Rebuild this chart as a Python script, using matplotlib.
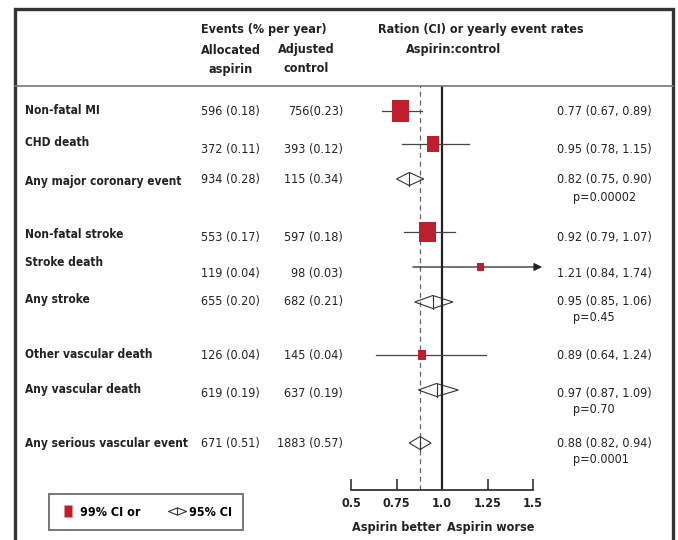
import numpy as np
import matplotlib
matplotlib.use("Agg")
import matplotlib.pyplot as plt
import matplotlib.transforms as mtransforms
from matplotlib.patches import Rectangle, Polygon
from matplotlib.lines import Line2D
from matplotlib.path import Path

plt.rcParams['font.family'] = ['DejaVu Sans']
plt.rcParams['font.stretch'] = 'condensed'
plt.rcParams['font.size'] = 9

# data
outcomes = ["Non-fatal MI", "CHD death", "Any major coronary event",
            "Non-fatal stroke", "Stroke death", "Any stroke",
            "Other vascular death", "Any vascular death", "Any serious vascular event"]
aspirin_events = ["596 (0.18)", "372 (0.11)", "934 (0.28)", "553 (0.17)", "119 (0.04)",
                  "655 (0.20)", "126 (0.04)", "619 (0.19)", "671 (0.51)"]
control_events = ["756(0.23)", "393 (0.12)", "115 (0.34)", "597 (0.18)", "98 (0.03)",
                  "682 (0.21)", "145 (0.04)", "637 (0.19)", "1883 (0.57)"]
ratio = [0.77, 0.95, 0.82, 0.92, 1.21, 0.95, 0.89, 0.97, 0.88]
ci_lo = [0.67, 0.78, 0.75, 0.79, 0.84, 0.85, 0.64, 0.87, 0.82]
ci_hi = [0.89, 1.15, 0.90, 1.07, 1.74, 1.06, 1.24, 1.09, 0.94]
is_total = [False, False, True, False, False, True, False, True, True]
p_values = [None, None, "p=0.00002", None, None, "p=0.45", None, "p=0.70", "p=0.0001"]
ticks = [0.5, 0.75, 1.0, 1.25, 1.5]
tick_labels = ["0.5", "0.75", "1.0", "1.25", "1.5"]

# layout (pixels from top of a 678x540 image)
W, H = 678, 540
label_y = [110, 142, 181, 234, 263, 299, 355, 390, 443]
value_y = [111, 149, 180, 237, 273, 301, 356, 393, 443]
mark_y = [111, 144, 179, 232, 267, 302, 355, 390, 443]
red = '#be1e2d'
ink = '#222222'

def fx(px):
    return px / W

def fy(py):
    return 1 - py / H

fig = plt.figure(figsize=(6.78, 5.4), dpi=100)

# frame and separator
fig.add_artist(Rectangle((fx(15), -0.1), fx(673) - fx(15), fy(9) + 0.1, fill=False,
                         lw=2.4, ec='#333333', transform=fig.transFigure, clip_on=False))
fig.add_artist(Line2D([fx(15), fx(673)], [fy(86), fy(86)], color='#777777', lw=1.2,
                      transform=fig.transFigure))

# header
hdr = dict(ha='center', va='center', fontweight='bold', color=ink)
fig.text(fx(264), fy(30), "Events (% per year)", **hdr)
fig.text(fx(231), fy(50), "Allocated", **hdr)
fig.text(fx(231), fy(69), "aspirin", **hdr)
fig.text(fx(306), fy(50), "Adjusted", **hdr)
fig.text(fx(306), fy(69), "control", **hdr)
fig.text(fx(481), fy(30), "Ration (CI) or yearly event rates", **hdr)
fig.text(fx(454), fy(50), "Aspirin:control", **hdr)

# forest axes
ax = fig.add_axes([fx(351), fy(490), fx(533) - fx(351), fy(86) - fy(490)])
ax.set_xlim(0.5, 1.5)
ax.set_ylim(490, 86)
ax.patch.set_alpha(0)
for s in ['left', 'right', 'top']:
    ax.spines[s].set_visible(False)
ax.spines['bottom'].set_color('#333333')
ax.spines['bottom'].set_linewidth(1.3)
ax.set_yticks([])
ax.set_xticks(ticks)
ax.set_xticklabels(tick_labels, fontweight='bold', color=ink)
ax.tick_params(axis='x', direction='in', length=8, width=1.2, color='#333333', pad=5)

ax.axvline(1.0, color=ink, lw=1.6, zorder=2)
ax.axvline(ratio[-1], color='#666666', lw=0.9, ls=(0, (4, 3)), zorder=1)

px_per_unit = (533 - 351) / 1.0
arrow_end = 1.55
for r, lo, hi, tot, y in zip(ratio, ci_lo, ci_hi, is_total, mark_y):
    if tot:
        ax.add_patch(Polygon([(lo, y), (r, y - 6.5), (hi, y), (r, y + 6.5)], closed=True,
                             fill=False, ec='#333333', lw=0.8, zorder=3))
        ax.plot([r, r], [y - 6.5, y + 6.5], color='#333333', lw=0.8, zorder=3)
        continue
    if hi > arrow_end:
        ax.annotate('', xy=(arrow_end, y), xytext=(lo, y), annotation_clip=False,
                    arrowprops=dict(arrowstyle='-|>', color=ink, lw=0.9,
                                    mutation_scale=12, shrinkA=0, shrinkB=0), zorder=3)
    else:
        ax.plot([lo, hi], [y, y], color='#444444', lw=0.9, zorder=3)
    w_px = 4.9 / np.log(hi / lo)
    h_px = 1.25 * w_px
    dx = w_px / px_per_unit
    ax.add_patch(Rectangle((r - dx / 2, y - h_px / 2), dx, h_px, fc=red, ec='none', zorder=4))

# axis captions
fig.text(fx(396), fy(527), "Aspirin better", ha='center', va='center', fontweight='bold', color=ink)
fig.text(fx(491), fy(527), "Aspirin worse", ha='center', va='center', fontweight='bold', color=ink)

# table columns
trans = mtransforms.blended_transform_factory(fig.transFigure, ax.transData)
for i, name in enumerate(outcomes):
    ax.text(fx(25), label_y[i], name, transform=trans, ha='left', va='center',
            fontweight='bold', fontsize=8.6, color=ink, clip_on=False)
    ax.text(fx(260), value_y[i], aspirin_events[i], transform=trans, ha='right', va='center',
            color=ink, clip_on=False)
    ax.text(fx(343), value_y[i], control_events[i], transform=trans, ha='right', va='center',
            color=ink, clip_on=False)
    ax.text(fx(557), value_y[i], f"{ratio[i]:.2f} ({ci_lo[i]:.2f}, {ci_hi[i]:.2f})",
            transform=trans, ha='left', va='center', color=ink, clip_on=False)
    if p_values[i]:
        ax.text(fx(573), value_y[i] + 17, p_values[i], transform=trans, ha='left',
                va='center', color=ink, clip_on=False)

# legend
bar = Path([(-0.3, -0.5), (0.3, -0.5), (0.3, 0.5), (-0.3, 0.5), (-0.3, -0.5)],
           [Path.MOVETO, Path.LINETO, Path.LINETO, Path.LINETO, Path.CLOSEPOLY])
diamond = Path([(-1, 0), (0, 0.4), (1, 0), (0, -0.4), (-1, 0), (0, 0.4), (0, -0.4)],
               [Path.MOVETO, Path.LINETO, Path.LINETO, Path.LINETO, Path.CLOSEPOLY,
                Path.MOVETO, Path.LINETO])
handles = [Line2D([], [], marker=bar, ls='none', mfc=red, mec='none', markersize=9,
                  label="99% CI or"),
           Line2D([], [], marker=diamond, ls='none', mfc='none', mec='#333333', mew=0.8,
                  markersize=13, label="95% CI")]
leg = fig.legend(handles=handles, loc='center', ncol=2, frameon=True, fancybox=False,
                 bbox_to_anchor=(fx(146), fy(512)), handlelength=1.3, handletextpad=0.35,
                 columnspacing=2.2, borderpad=0.9, prop={'weight': 'bold'})
leg.get_frame().set_edgecolor('#555555')
leg.get_frame().set_linewidth(1.4)

fig.savefig("out.png", dpi=100)
